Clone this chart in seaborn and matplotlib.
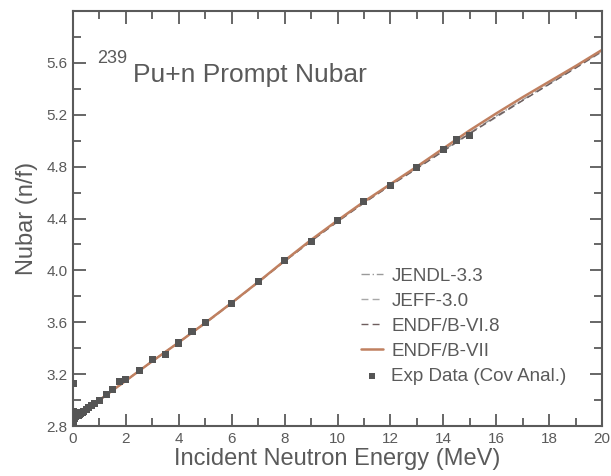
import numpy as np
import pandas as pd
import matplotlib
matplotlib.use("Agg")
import matplotlib.pyplot as plt
import seaborn as sns
from matplotlib.ticker import MultipleLocator

# ---- data ----
energy_grid = [0, 1, 2, 3, 4, 5, 6, 7, 8, 9, 10, 11, 12, 13, 14, 15, 16, 17, 18, 19, 20]
endf_b7 = [2.87, 3.00, 3.15, 3.30, 3.445, 3.595, 3.75, 3.91, 4.075, 4.235, 4.385,
           4.53, 4.665, 4.80, 4.94, 5.08, 5.21, 5.335, 5.455, 5.575, 5.70]
endf_b68 = [2.87, 3.00, 3.15, 3.30, 3.445, 3.595, 3.75, 3.91, 4.07, 4.225, 4.375,
            4.52, 4.655, 4.785, 4.92, 5.055, 5.185, 5.31, 5.435, 5.56, 5.69]
jeff30 = [2.87, 3.00, 3.15, 3.30, 3.445, 3.59, 3.745, 3.905, 4.07, 4.225, 4.375,
          4.52, 4.655, 4.785, 4.92, 5.055, 5.18, 5.31, 5.435, 5.56, 5.685]
jendl33 = [2.87, 3.00, 3.15, 3.30, 3.445, 3.595, 3.75, 3.91, 4.07, 4.23, 4.38,
           4.525, 4.66, 4.79, 4.925, 5.06, 5.19, 5.315, 5.44, 5.565, 5.69]

exp_energy = [0.0, 0.0, 0.0, 0.0, 0.01, 0.02, 0.05, 0.1, 0.15, 0.2, 0.25, 0.3, 0.35,
              0.4, 0.5, 0.6, 0.7, 0.8, 1.0, 1.25, 1.5, 1.75, 2.0, 2.5, 3.0, 3.5,
              4.0, 4.5, 5.0, 6.0, 7.0, 8.0, 9.0, 10.0, 11.0, 12.0, 13.0, 14.0,
              14.5, 15.0]
exp_nubar = [3.13, 2.91, 2.88, 2.83, 2.87, 2.85, 2.86, 2.87, 2.88, 2.885, 2.89, 2.90,
             2.905, 2.91, 2.925, 2.94, 2.955, 2.97, 2.995, 3.046, 3.08, 3.14, 3.16,
             3.23, 3.31, 3.35, 3.44, 3.53, 3.60, 3.745, 3.915, 4.075, 4.225, 4.385,
             4.53, 4.655, 4.79, 4.935, 5.005, 5.04]

x_ticks = [0, 2, 4, 6, 8, 10, 12, 14, 16, 18, 20]
y_ticks = [2.8, 3.2, 3.6, 4.0, 4.4, 4.8, 5.2, 5.6]

# ---- style ----
sns.set_style("ticks")
plt.rcParams["font.family"] = ["Liberation Sans", "DejaVu Sans"]
gray = "#5a5a5a"

fig = plt.figure(figsize=(6.11, 4.76), dpi=100)
ax = fig.add_axes([73 / 611, 50 / 476, 529 / 611, 415 / 476])

curves = pd.DataFrame({"E": energy_grid, "JENDL-3.3": jendl33, "JEFF-3.0": jeff30,
                       "ENDF/B-VI.8": endf_b68, "ENDF/B-VII": endf_b7})
exp = pd.DataFrame({"E": exp_energy, "nu": exp_nubar})

sns.lineplot(data=curves, x="E", y="JENDL-3.3", ax=ax, color="#9a9a9a",
             linestyle=(0, (6, 2, 1, 2)), linewidth=1.0, label="JENDL-3.3")
sns.lineplot(data=curves, x="E", y="JEFF-3.0", ax=ax, color="#a8a8a8",
             linestyle=(0, (5, 3)), linewidth=1.0, label="JEFF-3.0")
sns.lineplot(data=curves, x="E", y="ENDF/B-VI.8", ax=ax, color="#6e5e5e",
             linestyle=(0, (5, 3)), linewidth=1.0, label="ENDF/B-VI.8")
sns.lineplot(data=curves, x="E", y="ENDF/B-VII", ax=ax, color="#c08060",
             linewidth=1.8, label="ENDF/B-VII")
sns.scatterplot(data=exp, x="E", y="nu", ax=ax, marker="s", s=26, color="#555555",
                edgecolor="none", label="Exp Data (Cov Anal.)", zorder=5)

ax.set_xlim(0, 20)
ax.set_ylim(2.8, 6.0)
ax.set_xticks(x_ticks)
ax.set_xticklabels([str(v) for v in x_ticks])
ax.set_yticks(y_ticks)
ax.set_yticklabels([f"{v:.1f}" for v in y_ticks])
ax.xaxis.set_minor_locator(MultipleLocator(1))
ax.yaxis.set_minor_locator(MultipleLocator(0.2))
ax.tick_params(which="both", direction="in", top=True, right=True, color=gray,
               labelcolor=gray, labelsize=11, width=1.3)
ax.tick_params(which="major", length=9, pad=4)
ax.tick_params(which="minor", length=6)
for sp in ax.spines.values():
    sp.set_color(gray)
    sp.set_linewidth(1.5)
    sp.set_visible(True)

ax.set_xlabel("Incident Neutron Energy (MeV)", fontsize=17, color=gray, labelpad=2)
ax.set_ylabel("Nubar (n/f)", fontsize=17, color=gray, labelpad=6)

ax.text(0.045, 0.875, "239", transform=ax.transAxes, fontsize=13, color=gray,
        va="baseline", ha="left")
ax.text(0.113, 0.829, "Pu+n Prompt Nubar", transform=ax.transAxes, fontsize=19,
        color=gray, va="baseline", ha="left")

leg = ax.legend(loc="center left", bbox_to_anchor=(0.545, 0.24), frameon=False,
                fontsize=13.5, handlelength=1.15, handletextpad=0.45, labelspacing=0.42,
                borderpad=0, borderaxespad=0, markerscale=0.8)
for t in leg.get_texts():
    t.set_color(gray)

fig.savefig("out.png", dpi=100)
